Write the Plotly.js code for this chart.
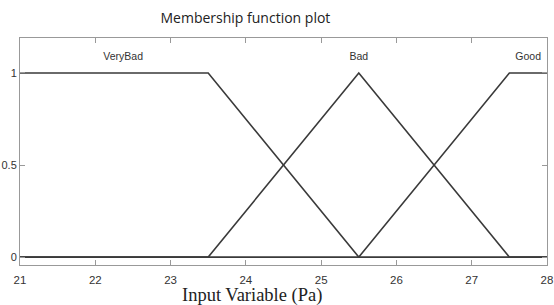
<!DOCTYPE html>
<html><head><meta charset="utf-8">
<script src="https://cdn.plot.ly/plotly-3.0.1.min.js"></script>
<style>body{margin:0;background:#fff}#c{width:554px;height:305px}</style>
</head><body><div id="c"></div>
<script>
const veryBadX = [21, 23.5, 25.5, 28];
const veryBadY = [1, 1, 0, 0];
const badX = [21, 23.5, 25.5, 27.5, 28];
const badY = [0, 0, 1, 0, 0];
const goodX = [21, 25.5, 27.5, 28];
const goodY = [0, 0, 1, 1];
const mfNames = ['VeryBad', 'Bad', 'Good'];
const labelX = [22.37, 25.5, 27.75];
const labelY = [1.087, 1.087, 1.087];
const xTicks = [21, 22, 23, 24, 25, 26, 27, 28];
const yTicks = [0, 0.5, 1];
const xTitle = 'Input Variable (Pa)';

const lineStyle = {color: '#3a3a3a', width: 1.6};
const traces = [
  {x: veryBadX, y: veryBadY, mode: 'lines', line: lineStyle, hoverinfo: 'skip'},
  {x: badX, y: badY, mode: 'lines', line: lineStyle, hoverinfo: 'skip'},
  {x: goodX, y: goodY, mode: 'lines', line: lineStyle, hoverinfo: 'skip'},
  {x: labelX, y: labelY, mode: 'text', text: mfNames, textposition: 'middle center',
   textfont: {family: 'Liberation Sans, Arial', size: 10.5, color: '#333'}, hoverinfo: 'skip'}
];
const layout = {
  width: 554, height: 305,
  margin: {l: 20, r: 7, t: 38, b: 40},
  showlegend: false,
  paper_bgcolor: '#fff', plot_bgcolor: '#fff',
  title: {text: 'Membership function plot', x: 0.443, xanchor: 'center', y: 0.94, yanchor: 'middle',
    font: {family: 'Open Sans, sans-serif', size: 14, color: '#222'}},
  xaxis: {range: [21, 28], tickvals: xTicks, ticks: 'inside', ticklen: 5, tickcolor: '#999',
    showgrid: false, zeroline: false, showline: true, linecolor: '#999', linewidth: 1, mirror: 'ticks',
    ticklabelstandoff: 4,
    tickfont: {family: 'Liberation Sans, Arial', size: 11.5, color: '#333'}},
  yaxis: {range: [-0.043, 1.19], tickvals: yTicks, ticktext: ['0', '0.5', '1'], ticks: 'inside', ticklen: 5, tickcolor: '#999',
    showgrid: false, zeroline: false, showline: true, linecolor: '#999', linewidth: 1, mirror: 'ticks',
    tickfont: {family: 'Liberation Sans, Arial', size: 11, color: '#333'}},
  annotations: [{text: xTitle, xref: 'paper', yref: 'paper', x: 0.44, y: -0.135, xanchor: 'center', yanchor: 'middle',
    showarrow: false, font: {family: 'Liberation Serif, Times New Roman, serif', size: 18.5, color: '#222'}}]
};
Plotly.newPlot('c', traces, layout, {displayModeBar: false, staticPlot: true});
</script></body></html>
